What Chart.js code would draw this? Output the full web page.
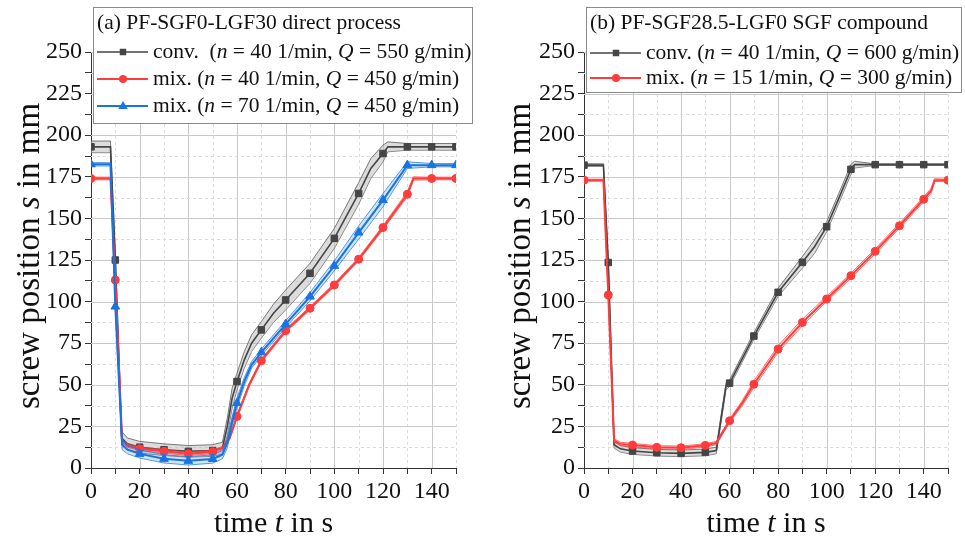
<!DOCTYPE html>
<html>
<head>
<meta charset="utf-8">
<script src="https://cdn.jsdelivr.net/npm/chart.js@4.4.1/dist/chart.umd.min.js"></script>
<style>
  html, body { margin: 0; padding: 0; background: #fff; }
  #wrap { position: relative; width: 965px; height: 543px; overflow: hidden; }
  canvas { position: absolute; top: 0; }
</style>
</head>
<body>
<div id="wrap">
  <canvas id="chartA" width="482" height="543" style="left:0"></canvas>
  <canvas id="chartB" width="483" height="543" style="left:482px"></canvas>
</div>
<script>
// ---- (a) PF-SGF0-LGF30 direct process ----
const tA_conv   = [0, 8, 10, 12.6, 15, 20, 30, 40, 50, 54, 56, 58, 60, 63, 66, 70, 75, 80, 90, 100, 110, 115, 120, 122, 130, 140, 150];
const sA_conv   = [193, 193, 125, 18, 14.5, 12.5, 11, 10, 10.5, 12, 25, 42, 52, 65, 75, 83, 93, 101, 117, 138, 165, 180, 189, 193, 193, 193, 193];
const dA_conv   = [3.5, 3.5, 4, 4, 3.5, 3.5, 3.5, 3.5, 3.5, 3.5, 5, 6, 5, 5, 5, 5, 5.5, 6, 6, 6, 6.5, 6, 5, 3, 2, 2, 2];

const tA_mix40  = [0, 8, 10, 12.8, 15, 20, 30, 40, 50, 54, 57, 60, 65, 70, 80, 90, 100, 110, 120, 130, 132.5, 140, 150];
const sA_mix40  = [174, 174, 113, 16, 13.5, 11.5, 10, 8.5, 9.7, 12, 18, 31, 50, 64.5, 82.5, 96, 110, 125.5, 144.5, 164.5, 174, 174, 174];
const dA_mix40  = [0.8, 0.8, 1, 1, 1, 1, 1, 1, 1, 1, 1, 1, 1, 1, 1, 1, 1, 1, 1.2, 1.5, 1, 0.8, 0.8];

const tA_mix70  = [0, 8, 10, 12.8, 15, 20, 30, 40, 50, 54, 56, 58, 60, 63, 66, 70, 80, 90, 100, 110, 120, 130, 140, 150];
const sA_mix70  = [182.5, 182.5, 97, 14, 11, 8.5, 5.5, 4.3, 5.4, 8, 15, 28, 39, 52, 62, 69.5, 86.5, 103, 121.5, 141.5, 161, 182, 182, 182];
const dA_mix70  = [1, 1, 2, 3, 2.5, 2.5, 2.5, 2.5, 2.5, 2.5, 3, 3, 3, 2.5, 2, 2, 2, 2.5, 3, 4, 4, 2, 1, 1];

// ---- (b) PF-SGF28.5-LGF0 SGF compound ----
const tB_conv   = [0, 8, 10, 12.4, 15, 20, 30, 40, 50, 54.5, 58.5, 60, 70, 80, 90, 95, 100, 105, 110, 111.5, 120, 130, 140, 150];
const sB_conv   = [182, 182, 123.5, 14, 11.5, 10.2, 9.2, 8.8, 9.4, 10.5, 49, 51, 79.3, 105.6, 123.6, 133, 145, 162, 179.5, 182.3, 182.3, 182.3, 182.3, 182.3];
const dB_conv   = [0.8, 0.8, 1, 2, 2, 2, 2, 2, 2, 2, 2, 2, 2, 2.5, 3.5, 4, 3, 3, 3, 2, 0.5, 0.5, 0.5, 0.5];

const tB_mix15  = [0, 8, 10, 12.4, 15, 20, 30, 40, 50, 54.5, 60, 65, 70, 80, 90, 100, 110, 120, 130, 140, 143, 144.5, 150];
const sB_mix15  = [173, 173, 104, 16.5, 14.5, 13.8, 12.4, 12.2, 13.6, 15, 28.4, 38.5, 50.3, 71.5, 87.5, 101.6, 115.6, 130.2, 145.6, 161.5, 166.5, 173, 173];
const dB_mix15  = [0.6, 0.6, 1, 1, 1, 1, 1, 1, 1, 1, 1, 1.5, 2, 2, 2, 1.5, 1.5, 1.5, 1.5, 1.5, 1.5, 0.8, 0.6];

const titleA  = '(a) PF-SGF0-LGF30 direct process';
const legendA = ['conv.  (*n* = 40 1/min, *Q* = 550 g/min)', 'mix. (*n* = 40 1/min, *Q* = 450 g/min)', 'mix. (*n* = 70 1/min, *Q* = 450 g/min)'];
const titleB  = '(b) PF-SGF28.5-LGF0 SGF compound';
const legendB = ['conv. (*n* = 40 1/min, *Q* = 600 g/min)', 'mix. (*n* = 15 1/min, *Q* = 300 g/min)'];

const yTitle = 'screw position *s* in mm';
const xTitle = 'time *t* in s';

const FONT = "'Liberation Serif', 'Times New Roman', serif";

const GRAY = { color: '#454545', edge: '#5a5a5a', band: 'rgba(185,185,185,0.5)', marker: 'rect', r: 4.6, width: 1.6 };
const RED  = { color: '#ff3b3b', edge: 'rgba(255,59,59,0.9)', band: 'rgba(255,90,90,0.18)', marker: 'circle', r: 4, width: 2 };
const BLUE = { color: '#1874e0', edge: 'rgba(24,116,224,0.9)', band: 'rgba(40,130,235,0.22)', marker: 'triangle', r: 5, width: 2 };

function addSeries(list, t, s, d, st, order) {
    const pts = arr => t.map((x, i) => ({ x: x, y: arr[i] }));
    list.push({ data: pts(s.map((v, i) => v - d[i])), borderColor: st.edge, borderWidth: 0.8, pointRadius: 0, fill: false, order: order + 2 });
    list.push({ data: pts(s.map((v, i) => v + d[i])), borderColor: st.edge, borderWidth: 0.8, pointRadius: 0, fill: '-1', backgroundColor: st.band, order: order + 1 });
    list.push({
        data: pts(s), borderColor: st.color, backgroundColor: st.color, borderWidth: st.width,
        pointStyle: st.marker, pointBorderWidth: 1, pointBorderColor: st.color, pointBackgroundColor: st.color,
        pointRadius: c => (c.raw && c.raw.x % 10 === 0 ? st.r : 0),
        fill: false, order: order
    });
}

function richText(ctx, text, x, y, size) {
    let cx = x;
    text.split('*').forEach((p, i) => {
        ctx.font = (i % 2 ? 'italic ' : '') + size + 'px ' + FONT;
        ctx.fillText(p, cx, y);
        cx += ctx.measureText(p).width;
    });
    return cx;
}
function richWidth(ctx, text, size) {
    let w = 0;
    text.split('*').forEach((p, i) => {
        ctx.font = (i % 2 ? 'italic ' : '') + size + 'px ' + FONT;
        w += ctx.measureText(p).width;
    });
    return w;
}

function marker(ctx, st, x, y) {
    ctx.fillStyle = st.color;
    ctx.beginPath();
    if (st.marker === 'rect') {
        const h = st.r * Math.SQRT1_2;
        ctx.rect(x - h, y - h, 2 * h, 2 * h);
    } else if (st.marker === 'circle') {
        ctx.arc(x, y, st.r, 0, Math.PI * 2);
    } else {
        ctx.moveTo(x, y - st.r);
        ctx.lineTo(x + st.r * 0.95, y + st.r * 0.6);
        ctx.lineTo(x - st.r * 0.95, y + st.r * 0.6);
        ctx.closePath();
    }
    ctx.fill();
}

const gridPlugin = {
    id: 'paperGrid',
    beforeDatasetsDraw(chart) {
        const { ctx, chartArea: a, scales: { x, y } } = chart;
        ctx.save();
        ctx.lineWidth = 1;
        for (let t = 10; t <= 150; t += 10) {
            const px = Math.round(x.getPixelForValue(t)) + 0.5;
            const major = t % 20 === 0 && t < 150;
            ctx.strokeStyle = major ? '#c9c9c9' : '#dcdcdc';
            ctx.setLineDash(major ? [] : [3, 3]);
            ctx.beginPath(); ctx.moveTo(px, a.top); ctx.lineTo(px, a.bottom); ctx.stroke();
        }
        for (let v = 12.5; v <= 250; v += 12.5) {
            const py = Math.round(y.getPixelForValue(v)) + 0.5;
            const major = v % 25 === 0;
            ctx.strokeStyle = major ? '#c9c9c9' : '#dcdcdc';
            ctx.setLineDash(major ? [] : [3, 3]);
            ctx.beginPath(); ctx.moveTo(a.left, py); ctx.lineTo(a.right, py); ctx.stroke();
        }
        ctx.restore();
    }
};

function decorPlugin(cfg) {
    return {
        id: 'decor',
        afterDraw(chart) {
            const { ctx, chartArea: a } = chart;
            ctx.save();
            ctx.fillStyle = '#111';
            ctx.textBaseline = 'alphabetic';
            // axis titles
            const xs = 30;
            const xw = richWidth(ctx, xTitle, xs);
            richText(ctx, xTitle, (a.left + a.right) / 2 - xw / 2, 532, xs);
            const ys = 33;
            const yw = richWidth(ctx, yTitle, ys);
            ctx.translate(cfg.yTitleX, 256);
            ctx.rotate(-Math.PI / 2);
            ctx.textBaseline = 'middle';
            richText(ctx, yTitle, -yw / 2, 0, ys);
            ctx.restore();

            // legend box
            ctx.save();
            const b = cfg.box;
            ctx.fillStyle = '#fff';
            ctx.fillRect(b.x, b.y, b.w, b.h);
            ctx.strokeStyle = '#8a8a8a';
            ctx.lineWidth = 1;
            ctx.strokeRect(b.x + 0.5, b.y + 0.5, b.w, b.h);
            ctx.fillStyle = '#111';
            ctx.textBaseline = 'middle';
            ctx.font = cfg.fs + 'px ' + FONT;
            ctx.fillText(cfg.title, b.x + 4, cfg.rows[0]);
            cfg.entries.forEach((txt, i) => {
                const yy = cfg.rows[i + 1];
                const st = cfg.styles[i];
                ctx.strokeStyle = st.color;
                ctx.lineWidth = st.width;
                ctx.beginPath(); ctx.moveTo(b.x + 4, yy); ctx.lineTo(b.x + 55, yy); ctx.stroke();
                marker(ctx, st, b.x + 30, yy);
                ctx.fillStyle = '#111';
                richText(ctx, txt, b.x + 60, yy, cfg.fs);
            });
            ctx.restore();
        }
    };
}

function makeChart(id, datasets, yWidth, padRight, decor) {
    return new Chart(document.getElementById(id), {
        type: 'line',
        data: { datasets: datasets },
        options: {
            responsive: false,
            devicePixelRatio: 1,
            animation: false,
            layout: { padding: { top: 52, right: padRight, left: 0, bottom: 0 } },
            plugins: { legend: { display: false }, tooltip: { enabled: false } },
            scales: {
                x: {
                    type: 'linear', min: 0, max: 150,
                    afterFit: s => { s.height = 75; },
                    border: { color: '#333', width: 1 },
                    grid: { drawOnChartArea: false, tickLength: 6, color: '#333' },
                    ticks: {
                        stepSize: 10, autoSkip: false, maxRotation: 0, padding: 3, color: '#111',
                        font: { family: FONT, size: 24 },
                        callback: v => (v % 20 === 0 && v < 150 ? v : '')
                    }
                },
                y: {
                    type: 'linear', min: 0, max: 250,
                    afterFit: s => { s.width = yWidth; },
                    border: { color: '#333', width: 1 },
                    grid: { drawOnChartArea: false, tickLength: 6, color: '#333' },
                    ticks: {
                        stepSize: 12.5, autoSkip: false, padding: 3, color: '#111',
                        font: { family: FONT, size: 24 },
                        callback: v => (v % 25 === 0 ? v : '')
                    }
                }
            }
        },
        plugins: [gridPlugin, decorPlugin(decor)]
    });
}

document.addEventListener('DOMContentLoaded', function () {
    try {
        const dsA = [];
        addSeries(dsA, tA_mix70, sA_mix70, dA_mix70, BLUE, 10);
        addSeries(dsA, tA_mix40, sA_mix40, dA_mix40, RED, 20);
        addSeries(dsA, tA_conv, sA_conv, dA_conv, GRAY, 30);
        makeChart('chartA', dsA, 91, 26, {
            yTitleX: 30, box: { x: 93, y: 7, w: 379, h: 116 }, fs: 21.5,
            title: titleA, entries: legendA, styles: [GRAY, RED, BLUE], rows: [23, 52, 79, 106]
        });
    } catch (error) {
        console.error('chart a:', error);
    }
    try {
        const dsB = [];
        addSeries(dsB, tB_mix15, sB_mix15, dB_mix15, RED, 10);
        addSeries(dsB, tB_conv, sB_conv, dB_conv, GRAY, 30);
        makeChart('chartB', dsB, 102, 17, {
            yTitleX: 39, box: { x: 104, y: 7, w: 375, h: 85 }, fs: 21.5,
            title: titleB, entries: legendB, styles: [GRAY, RED], rows: [23, 53, 78]
        });
    } catch (error) {
        console.error('chart b:', error);
    }
});
</script>
</body>
</html>
